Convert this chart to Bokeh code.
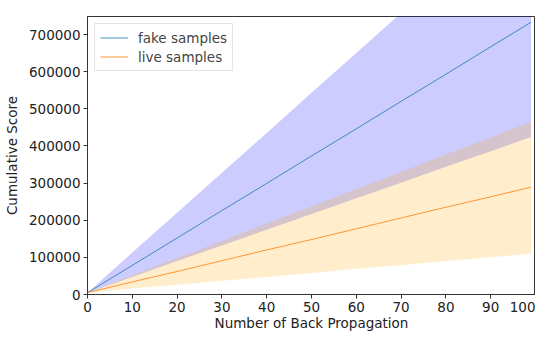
from bokeh.plotting import figure
from bokeh.models import Range1d, FixedTicker, BasicTickFormatter, Legend, LegendItem
from bokeh.embed import file_html
from bokeh.resources import INLINE

steps = [0, 10, 20, 30, 40, 50, 60, 70, 80, 90, 99]
fake_mean = [5000, 78500, 152000, 226000, 299000, 373000, 446000, 520000, 593000, 667000, 733000]
fake_upper = [5000, 113000, 220000, 328000, 435000, 543000, 650000, 758000, 866000, 973000, 1070000]
fake_lower = [5000, 47000, 90000, 132000, 174000, 217000, 259000, 301000, 344000, 386000, 424000]
live_mean = [5000, 34000, 62000, 91000, 120000, 148000, 177000, 206000, 235000, 263000, 289000]
live_upper = [5000, 51000, 98000, 144000, 191000, 237000, 284000, 330000, 377000, 423000, 465000]
live_lower = [5000, 16000, 26000, 37000, 47000, 58000, 69000, 79000, 90000, 100000, 110000]

x_ticks = [0, 10, 20, 30, 40, 50, 60, 70, 80, 90, 100]
y_ticks = [0, 100000, 200000, 300000, 400000, 500000, 600000, 700000]

font = "DejaVu Sans"

p = figure(width=535, height=333, output_backend="svg", toolbar_location=None,
           x_range=Range1d(0, 100), y_range=Range1d(0, 748500),
           min_border_left=10, min_border_right=0, min_border_top=16, min_border_bottom=0)
p.border_fill_color = "white"

p.varea(x=steps, y1=fake_lower, y2=fake_upper, fill_color="blue", fill_alpha=0.2)
p.varea(x=steps, y1=live_lower, y2=live_upper, fill_color="orange", fill_alpha=0.2)
r1 = p.line(steps, fake_mean, line_color="#1f77b4", line_width=1, line_alpha=0.8)
r2 = p.line(steps, live_mean, line_color="#ff7f0e", line_width=1, line_alpha=0.8)

legend = Legend(items=[LegendItem(label="fake samples", renderers=[r1]),
                       LegendItem(label="live samples", renderers=[r2])],
                location="top_left")
legend.label_text_font = font
legend.label_text_font_size = "13.5px"
legend.border_line_color = "#cccccc"
legend.border_line_width = 1
legend.glyph_width = 28
legend.glyph_height = 17
legend.label_height = 17
legend.spacing = 2
legend.padding = 5
legend.margin = 7
legend.label_standoff = 10
p.add_layout(legend)

p.xaxis.ticker = FixedTicker(ticks=x_ticks)
p.yaxis.ticker = FixedTicker(ticks=y_ticks)
p.yaxis.formatter = BasicTickFormatter(use_scientific=False)
p.xaxis.axis_label = "Number of Back Propagation"
p.yaxis.axis_label = "Cumulative Score"
for ax in (p.xaxis, p.yaxis):
    ax.axis_label_text_font = font
    ax.axis_label_text_font_style = "normal"
    ax.axis_label_text_font_size = "13.5px"
    ax.major_label_text_font = font
    ax.major_label_text_font_size = "13.5px"
    ax.major_label_text_color = "#222222"
    ax.axis_label_text_color = "#222222"
    ax.major_tick_in = 0
    ax.major_tick_out = 4
    ax.minor_tick_line_color = None
    ax.axis_line_color = "#333333"
    ax.major_tick_line_color = "#333333"
    ax.major_label_standoff = 3
p.xaxis.axis_label_standoff = 0
p.yaxis.axis_label_standoff = 6
p.xgrid.visible = False
p.ygrid.visible = False
p.outline_line_color = "#333333"
p.outline_line_alpha = 1
p.background_fill_color = "white"

open("out.html", "w").write(file_html(p, INLINE))
